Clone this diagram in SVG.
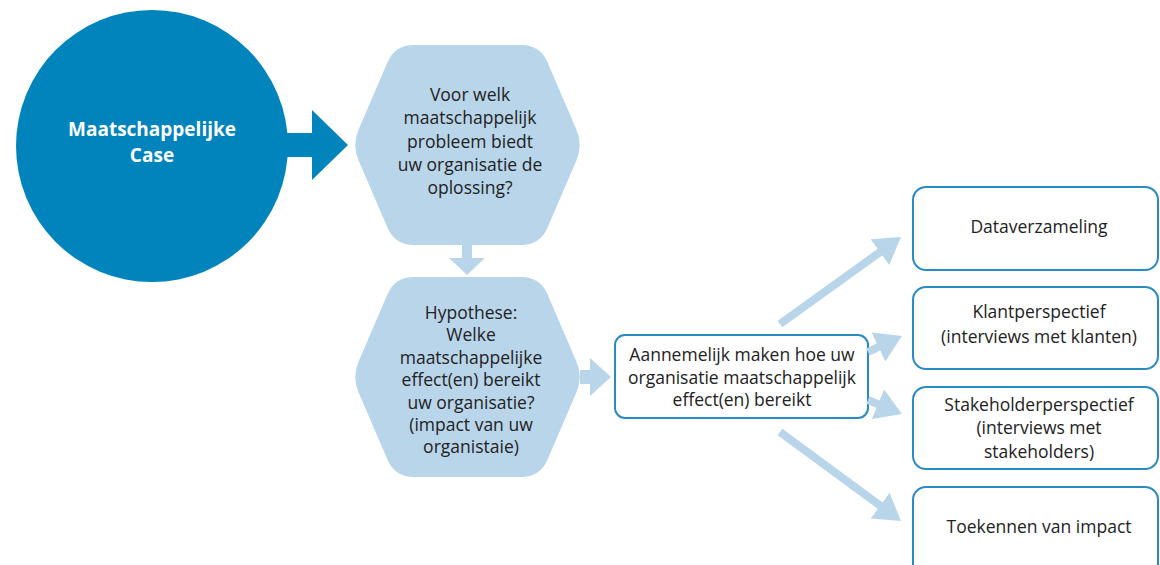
<svg xmlns="http://www.w3.org/2000/svg" width="1160" height="565" viewBox="0 0 1160 565">
<style>
.t{font-family:"Open Sans","Noto Sans","Liberation Sans",sans-serif;font-size:17.5px;fill:#222222;text-anchor:middle}
.w{font-family:"Open Sans","Noto Sans","Liberation Sans",sans-serif;font-size:19px;font-weight:bold;fill:#ffffff;text-anchor:middle}
.hex{fill:#b9d5ea}
.box{fill:#ffffff;stroke:#2a8ac4;stroke-width:2}
.la{fill:#b9d5ea}
.con{stroke:#b9d5ea;stroke-width:8;fill:none;marker-end:url(#ah)}
</style>
<defs>
<path id="hexp" d="M358.5,129.7 L387.5,62.3 Q395,45 414,45 L521,45 Q540,45 547.5,62.3 L576.5,129.7 Q583,145 576.5,160.3 L547.5,227.7 Q540,245 521,245 L414,245 Q395,245 387.5,227.7 L358.5,160.3 Q352,145 358.5,129.7 Z"/>
<marker id="ah" markerUnits="userSpaceOnUse" markerWidth="26" markerHeight="32" refX="2" refY="16" orient="auto" viewBox="0 0 26 32">
<path d="M0,0 L26,16 L0,32 Z" fill="#b9d5ea"/>
</marker>
</defs>
<rect width="1160" height="565" fill="#ffffff"/>

<g id="case">
<circle cx="152" cy="146" r="136" fill="#0084bb"/>
<text class="w" x="152" y="136">Maatschappelijke</text>
<text class="w" x="152" y="162">Case</text>
</g>

<g id="probleem">
<use href="#hexp" class="hex"/>
<text class="t" x="470" y="101">Voor welk</text>
<text class="t" x="470" y="124">maatschappelijk</text>
<text class="t" x="470" y="148">probleem biedt</text>
<text class="t" x="470" y="171">uw organisatie de</text>
<text class="t" x="470" y="194">oplossing?</text>
</g>

<g id="hypothese">
<use href="#hexp" class="hex" transform="translate(0,232)"/>
<text class="t" x="471" y="319">Hypothese:</text>
<text class="t" x="471" y="341">Welke</text>
<text class="t" x="471" y="364">maatschappelijke</text>
<text class="t" x="471" y="386">effect(en) bereikt</text>
<text class="t" x="471" y="409">uw organisatie?</text>
<text class="t" x="471" y="431">(impact van uw</text>
<text class="t" x="471" y="453">organistaie)</text>
</g>

<g id="aannemelijk">
<rect class="box" x="615" y="335" width="253" height="83" rx="10"/>
<text class="t" x="742" y="361">Aannemelijk maken hoe uw</text>
<text class="t" x="742" y="384">organisatie maatschappelijk</text>
<text class="t" x="742" y="406">effect(en) bereikt</text>
</g>

<g id="dataverzameling">
<rect class="box" x="913" y="187" width="245" height="83" rx="13"/>
<text class="t" x="1039" y="233">Dataverzameling</text>
</g>

<g id="klantperspectief">
<rect class="box" x="913" y="287" width="245" height="82" rx="13"/>
<text class="t" x="1039" y="318">Klantperspectief</text>
<text class="t" x="1039" y="343">(interviews met klanten)</text>
</g>

<g id="stakeholderperspectief">
<rect class="box" x="913" y="387" width="245" height="82" rx="13"/>
<text class="t" x="1039" y="411">Stakeholderperspectief</text>
<text class="t" x="1039" y="434">(interviews met</text>
<text class="t" x="1039" y="458">stakeholders)</text>
</g>

<g id="impact">
<rect class="box" x="913" y="487" width="245" height="95" rx="13"/>
<text class="t" x="1039" y="533">Toekennen van impact</text>
</g>

<g id="connectors">
<polygon points="282,133 312,133 312,110 348,145 312,180 312,157 282,157" fill="#0084bb"/>
<polygon class="la" points="462,244 472,244 472,258 485,258 467,275 449,258 462,258"/>
<polygon class="la" points="580,370 590,370 590,358 611,377 590,396 590,384 580,384"/>
<line class="con" x1="780" y1="324" x2="881.5" y2="251"/>
<line class="con" x1="868" y1="352" x2="880.3" y2="346.2"/>
<line class="con" x1="868" y1="400" x2="879.8" y2="404.9"/>
<line class="con" x1="780" y1="432" x2="881.7" y2="506.8"/>
</g>
</svg>
